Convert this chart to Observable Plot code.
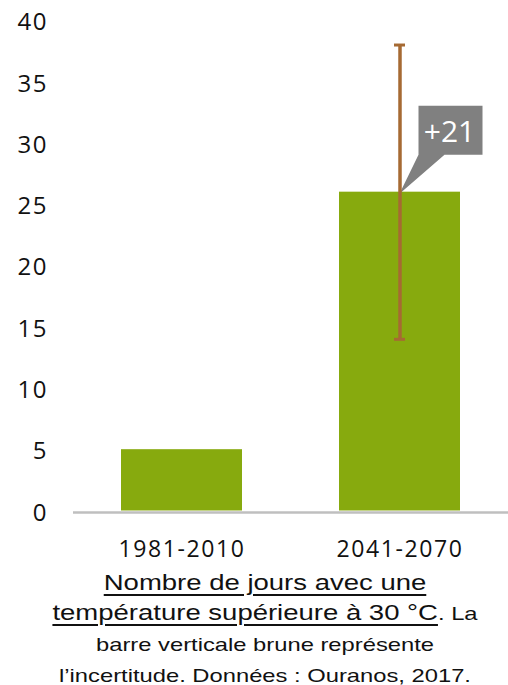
<!DOCTYPE html>
<html><head><meta charset="utf-8">
<script src="https://cdn.jsdelivr.net/npm/d3@7"></script>
<script src="https://cdn.jsdelivr.net/npm/@observablehq/plot@0.6"></script>
<style>
html,body{margin:0;padding:0;background:#fff;overflow:hidden;}
#chart svg{display:block;}
g[aria-label="y-axis tick label"] text{letter-spacing:1.5px;}
g[aria-label="x-axis tick label"] text{letter-spacing:1.6px;}
#caption{width:508px;font-family:"Liberation Sans",Arial,sans-serif;font-size:22px;line-height:30px;text-align:center;color:#111;transform:translateX(11px) scaleX(1.25);transform-origin:254px 0;}
#caption u{text-decoration-thickness:2px;text-underline-offset:3.5px;}
#caption .s{font-size:19px;}
</style></head>
<body><div id="chart"></div><div id="caption"></div>
<script>
const periods = ["1981-2010", "2041-2070"];
const days = [5, 26];
const uncertaintyLow = [null, 14];
const uncertaintyHigh = [null, 38];
const yTicks = [0, 5, 10, 15, 20, 25, 30, 35, 40];
const captionTitle = ["Nombre de jours avec une", "température supérieure à 30 °C"];
const captionNote = [". La", "barre verticale brune représente", "l’incertitude. Données : Ouranos, 2017."];

const bars = periods.map((p, i) => ({period: p, days: days[i]}));
const errs = periods.map((p, i) => ({period: p, lo: uncertaintyLow[i], hi: uncertaintyHigh[i]})).filter(d => d.lo != null);
const changeLabel = "+" + (days[1] - days[0]);

const GREEN = "#87aa0e", BROWN = "#a66a33", GREY = "#808080";

function callout(index, scales) {
  const ns = "http://www.w3.org/2000/svg";
  const bw = scales.x.bandwidth ? scales.x.bandwidth() : 0;
  const tx = scales.x(periods[1]) + bw / 2;
  const ty = scales.y(days[1]);
  const g = document.createElementNS(ns, "g");
  g.setAttribute("transform", `translate(${tx},${ty})`);
  const path = document.createElementNS(ns, "path");
  path.setAttribute("d", "M0,2L19,-37L19,-86L83,-86L83,-37L45,-37Z");
  path.setAttribute("fill", GREY);
  g.appendChild(path);
  const t = document.createElementNS(ns, "text");
  t.setAttribute("x", 50);
  t.setAttribute("y", -50);
  t.setAttribute("text-anchor", "middle");
  t.setAttribute("fill", "#fff");
  t.setAttribute("font-size", "30");
  t.setAttribute("font-family", "Open Sans");
  t.textContent = changeLabel;
  g.appendChild(t);
  return g;
}

const chart = Plot.plot({
  width: 508,
  height: 568,
  marginTop: 20,
  marginBottom: 57.5,
  marginLeft: 73,
  marginRight: 0,
  style: {fontFamily: "Open Sans", color: "#000", background: "#fff"},
  x: {domain: periods, paddingInner: 0.447, paddingOuter: 0.22, label: null},
  y: {domain: [0, 40], label: null},
  marks: [
    Plot.barY(bars, {x: "period", y: "days", fill: GREEN}),
    Plot.ruleY([0], {stroke: "#bfbfbf", strokeWidth: 2.5, dy: 1.5}),
    callout,
    Plot.ruleX(errs, {x: "period", y1: "lo", y2: "hi", stroke: BROWN, strokeWidth: 3.5}),
    Plot.tickY(errs, {x: "period", y: "hi", stroke: BROWN, strokeWidth: 3, insetLeft: 55, insetRight: 55}),
    Plot.tickY(errs, {x: "period", y: "lo", stroke: BROWN, strokeWidth: 3, insetLeft: 55, insetRight: 55}),
    Plot.axisY({ticks: yTicks, tickSize: 0, tickPadding: 25.5, fontSize: 24, dy: 2, label: null, fill: "#111"}),
    Plot.axisX({tickSize: 0, tickPadding: 30, fontSize: 23, label: null, fill: "#111"})
  ]
});
document.getElementById("chart").appendChild(chart);

const cap = document.getElementById("caption");
cap.innerHTML = `<u>${captionTitle[0]}</u><br><u>${captionTitle[1]}</u><span class="s">${captionNote[0]}</span><br><span class="s">${captionNote[1]}</span><br><span class="s">${captionNote[2]}</span>`;
</script>
</body></html>
